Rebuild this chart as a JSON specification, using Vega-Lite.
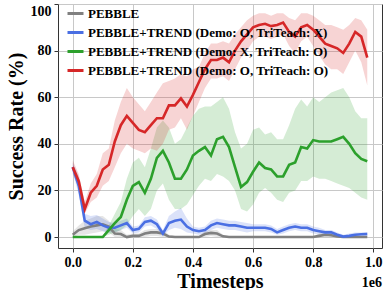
{
 "$schema": "https://vega.github.io/schema/vega-lite/v6.json",
 "width": 324,
 "height": 244,
 "autosize": "none",
 "padding": {"left": 58, "top": 4, "right": 2, "bottom": 42},
 "background": "white",
 "config": {
  "font": "Liberation Serif",
  "view": {"stroke": "#333333", "strokeWidth": 1},
  "axis": {"labelFont": "Liberation Serif", "labelFontWeight": "bold", "labelFontSize": 14, "labelColor": "black", "titleFont": "Liberation Serif", "titleFontWeight": "bold", "titleFontSize": 20, "titleColor": "black", "tickSize": 4, "tickColor": "#333333", "gridColor": "#c8c8c8", "gridWidth": 1, "domain": false}
 },
 "title": {"text": "1e6", "orient": "bottom", "anchor": "end", "frame": "group", "font": "Liberation Serif", "fontWeight": "bold", "fontSize": 14, "color": "black", "offset": -15},
 "data": {"values": [
  {"series":"PEBBLE","t":0,"mean":1,"lo":0,"hi":2.5},
  {"series":"PEBBLE","t":0.02,"mean":3,"lo":1,"hi":5},
  {"series":"PEBBLE","t":0.04,"mean":3.8,"lo":1,"hi":7},
  {"series":"PEBBLE","t":0.06,"mean":4.5,"lo":1.5,"hi":8},
  {"series":"PEBBLE","t":0.08,"mean":5,"lo":2,"hi":9},
  {"series":"PEBBLE","t":0.1,"mean":5.5,"lo":2.5,"hi":9},
  {"series":"PEBBLE","t":0.12,"mean":4.5,"lo":2,"hi":7},
  {"series":"PEBBLE","t":0.14,"mean":1.5,"lo":0,"hi":3.5},
  {"series":"PEBBLE","t":0.16,"mean":1.3,"lo":0,"hi":3},
  {"series":"PEBBLE","t":0.18,"mean":0,"lo":0,"hi":1},
  {"series":"PEBBLE","t":0.2,"mean":0.5,"lo":0,"hi":1.5},
  {"series":"PEBBLE","t":0.22,"mean":0.5,"lo":0,"hi":1.5},
  {"series":"PEBBLE","t":0.24,"mean":1.5,"lo":0,"hi":3},
  {"series":"PEBBLE","t":0.26,"mean":2,"lo":0.5,"hi":3.5},
  {"series":"PEBBLE","t":0.28,"mean":2,"lo":0.5,"hi":3.5},
  {"series":"PEBBLE","t":0.3,"mean":1.5,"lo":0,"hi":3},
  {"series":"PEBBLE","t":0.32,"mean":0.2,"lo":0,"hi":1},
  {"series":"PEBBLE","t":0.34,"mean":0,"lo":0,"hi":0.5},
  {"series":"PEBBLE","t":0.36,"mean":0,"lo":0,"hi":0.5},
  {"series":"PEBBLE","t":0.38,"mean":0,"lo":0,"hi":0.5},
  {"series":"PEBBLE","t":0.4,"mean":0,"lo":0,"hi":0.5},
  {"series":"PEBBLE","t":0.42,"mean":0,"lo":0,"hi":0.5},
  {"series":"PEBBLE","t":0.44,"mean":1.3,"lo":0,"hi":2.5},
  {"series":"PEBBLE","t":0.46,"mean":1.8,"lo":0.5,"hi":3},
  {"series":"PEBBLE","t":0.48,"mean":1.5,"lo":0,"hi":3},
  {"series":"PEBBLE","t":0.5,"mean":0.3,"lo":0,"hi":1},
  {"series":"PEBBLE","t":0.52,"mean":0,"lo":0,"hi":0.3},
  {"series":"PEBBLE","t":0.54,"mean":0,"lo":0,"hi":0.3},
  {"series":"PEBBLE","t":0.56,"mean":0,"lo":0,"hi":0.3},
  {"series":"PEBBLE","t":0.58,"mean":0,"lo":0,"hi":0.3},
  {"series":"PEBBLE","t":0.6,"mean":0,"lo":0,"hi":0.3},
  {"series":"PEBBLE","t":0.62,"mean":0,"lo":0,"hi":0.3},
  {"series":"PEBBLE","t":0.64,"mean":0,"lo":0,"hi":0.3},
  {"series":"PEBBLE","t":0.66,"mean":0,"lo":0,"hi":0.3},
  {"series":"PEBBLE","t":0.68,"mean":0,"lo":0,"hi":0.3},
  {"series":"PEBBLE","t":0.7,"mean":0,"lo":0,"hi":0.3},
  {"series":"PEBBLE","t":0.72,"mean":0,"lo":0,"hi":0.3},
  {"series":"PEBBLE","t":0.74,"mean":0,"lo":0,"hi":0.3},
  {"series":"PEBBLE","t":0.76,"mean":0,"lo":0,"hi":0.3},
  {"series":"PEBBLE","t":0.78,"mean":0,"lo":0,"hi":0.3},
  {"series":"PEBBLE","t":0.8,"mean":0,"lo":0,"hi":0.3},
  {"series":"PEBBLE","t":0.82,"mean":0.5,"lo":0,"hi":1.5},
  {"series":"PEBBLE","t":0.84,"mean":1,"lo":0,"hi":2},
  {"series":"PEBBLE","t":0.86,"mean":0.8,"lo":0,"hi":1.8},
  {"series":"PEBBLE","t":0.88,"mean":0.3,"lo":0,"hi":1},
  {"series":"PEBBLE","t":0.9,"mean":0,"lo":0,"hi":0.3},
  {"series":"PEBBLE","t":0.92,"mean":0,"lo":0,"hi":0.3},
  {"series":"PEBBLE","t":0.94,"mean":0,"lo":0,"hi":0.3},
  {"series":"PEBBLE","t":0.96,"mean":0,"lo":0,"hi":0.3},
  {"series":"PEBBLE","t":0.98,"mean":0,"lo":0,"hi":0.3},
  {"series":"PEBBLE+TREND (Demo: O, TriTeach: X)","t":0,"mean":30,"lo":28,"hi":32},
  {"series":"PEBBLE+TREND (Demo: O, TriTeach: X)","t":0.02,"mean":22,"lo":18,"hi":26},
  {"series":"PEBBLE+TREND (Demo: O, TriTeach: X)","t":0.04,"mean":7,"lo":4,"hi":10},
  {"series":"PEBBLE+TREND (Demo: O, TriTeach: X)","t":0.06,"mean":5.5,"lo":3,"hi":9},
  {"series":"PEBBLE+TREND (Demo: O, TriTeach: X)","t":0.08,"mean":6.5,"lo":3.5,"hi":9.5},
  {"series":"PEBBLE+TREND (Demo: O, TriTeach: X)","t":0.1,"mean":5,"lo":2.5,"hi":8},
  {"series":"PEBBLE+TREND (Demo: O, TriTeach: X)","t":0.12,"mean":4,"lo":2,"hi":6.5},
  {"series":"PEBBLE+TREND (Demo: O, TriTeach: X)","t":0.14,"mean":4,"lo":2,"hi":6},
  {"series":"PEBBLE+TREND (Demo: O, TriTeach: X)","t":0.16,"mean":5,"lo":3,"hi":7},
  {"series":"PEBBLE+TREND (Demo: O, TriTeach: X)","t":0.18,"mean":6,"lo":4,"hi":8},
  {"series":"PEBBLE+TREND (Demo: O, TriTeach: X)","t":0.2,"mean":3,"lo":1.5,"hi":4.5},
  {"series":"PEBBLE+TREND (Demo: O, TriTeach: X)","t":0.22,"mean":3.5,"lo":2,"hi":5},
  {"series":"PEBBLE+TREND (Demo: O, TriTeach: X)","t":0.24,"mean":6.5,"lo":4.5,"hi":8.5},
  {"series":"PEBBLE+TREND (Demo: O, TriTeach: X)","t":0.26,"mean":7,"lo":5,"hi":9},
  {"series":"PEBBLE+TREND (Demo: O, TriTeach: X)","t":0.28,"mean":5.5,"lo":3.5,"hi":7.5},
  {"series":"PEBBLE+TREND (Demo: O, TriTeach: X)","t":0.3,"mean":1.5,"lo":0.5,"hi":3},
  {"series":"PEBBLE+TREND (Demo: O, TriTeach: X)","t":0.32,"mean":6,"lo":3,"hi":9},
  {"series":"PEBBLE+TREND (Demo: O, TriTeach: X)","t":0.34,"mean":7,"lo":4,"hi":11},
  {"series":"PEBBLE+TREND (Demo: O, TriTeach: X)","t":0.36,"mean":7.5,"lo":3.5,"hi":12.5},
  {"series":"PEBBLE+TREND (Demo: O, TriTeach: X)","t":0.38,"mean":4.5,"lo":2,"hi":8},
  {"series":"PEBBLE+TREND (Demo: O, TriTeach: X)","t":0.4,"mean":3,"lo":1.5,"hi":4.5},
  {"series":"PEBBLE+TREND (Demo: O, TriTeach: X)","t":0.42,"mean":2.5,"lo":1,"hi":4},
  {"series":"PEBBLE+TREND (Demo: O, TriTeach: X)","t":0.44,"mean":3,"lo":1.5,"hi":4.5},
  {"series":"PEBBLE+TREND (Demo: O, TriTeach: X)","t":0.46,"mean":5,"lo":3,"hi":7},
  {"series":"PEBBLE+TREND (Demo: O, TriTeach: X)","t":0.48,"mean":6,"lo":4,"hi":8},
  {"series":"PEBBLE+TREND (Demo: O, TriTeach: X)","t":0.5,"mean":5.5,"lo":3.5,"hi":7.5},
  {"series":"PEBBLE+TREND (Demo: O, TriTeach: X)","t":0.52,"mean":5,"lo":3,"hi":7},
  {"series":"PEBBLE+TREND (Demo: O, TriTeach: X)","t":0.54,"mean":5,"lo":3,"hi":7},
  {"series":"PEBBLE+TREND (Demo: O, TriTeach: X)","t":0.56,"mean":4.5,"lo":2.5,"hi":6.5},
  {"series":"PEBBLE+TREND (Demo: O, TriTeach: X)","t":0.58,"mean":4,"lo":2,"hi":6},
  {"series":"PEBBLE+TREND (Demo: O, TriTeach: X)","t":0.6,"mean":4,"lo":2.5,"hi":5.5},
  {"series":"PEBBLE+TREND (Demo: O, TriTeach: X)","t":0.62,"mean":4,"lo":2.5,"hi":5.5},
  {"series":"PEBBLE+TREND (Demo: O, TriTeach: X)","t":0.64,"mean":4,"lo":2.5,"hi":5.5},
  {"series":"PEBBLE+TREND (Demo: O, TriTeach: X)","t":0.66,"mean":3.5,"lo":2,"hi":5},
  {"series":"PEBBLE+TREND (Demo: O, TriTeach: X)","t":0.68,"mean":2,"lo":1,"hi":3.5},
  {"series":"PEBBLE+TREND (Demo: O, TriTeach: X)","t":0.7,"mean":3,"lo":1.5,"hi":4.5},
  {"series":"PEBBLE+TREND (Demo: O, TriTeach: X)","t":0.72,"mean":4,"lo":2.5,"hi":5.5},
  {"series":"PEBBLE+TREND (Demo: O, TriTeach: X)","t":0.74,"mean":4.5,"lo":3,"hi":6},
  {"series":"PEBBLE+TREND (Demo: O, TriTeach: X)","t":0.76,"mean":4,"lo":2.5,"hi":5.5},
  {"series":"PEBBLE+TREND (Demo: O, TriTeach: X)","t":0.78,"mean":4,"lo":2.5,"hi":5.5},
  {"series":"PEBBLE+TREND (Demo: O, TriTeach: X)","t":0.8,"mean":3,"lo":1.5,"hi":4.5},
  {"series":"PEBBLE+TREND (Demo: O, TriTeach: X)","t":0.82,"mean":2.5,"lo":1,"hi":4},
  {"series":"PEBBLE+TREND (Demo: O, TriTeach: X)","t":0.84,"mean":2,"lo":1,"hi":3},
  {"series":"PEBBLE+TREND (Demo: O, TriTeach: X)","t":0.86,"mean":2,"lo":1,"hi":3},
  {"series":"PEBBLE+TREND (Demo: O, TriTeach: X)","t":0.88,"mean":1,"lo":0.3,"hi":2},
  {"series":"PEBBLE+TREND (Demo: O, TriTeach: X)","t":0.9,"mean":0.2,"lo":0,"hi":1},
  {"series":"PEBBLE+TREND (Demo: O, TriTeach: X)","t":0.92,"mean":0.5,"lo":0,"hi":1.5},
  {"series":"PEBBLE+TREND (Demo: O, TriTeach: X)","t":0.94,"mean":1,"lo":0.2,"hi":2},
  {"series":"PEBBLE+TREND (Demo: O, TriTeach: X)","t":0.96,"mean":1.2,"lo":0.3,"hi":2},
  {"series":"PEBBLE+TREND (Demo: O, TriTeach: X)","t":0.98,"mean":1.3,"lo":0.3,"hi":2.2},
  {"series":"PEBBLE+TREND (Demo: X, TriTeach: O)","t":0,"mean":0,"lo":0,"hi":0},
  {"series":"PEBBLE+TREND (Demo: X, TriTeach: O)","t":0.02,"mean":0,"lo":0,"hi":0},
  {"series":"PEBBLE+TREND (Demo: X, TriTeach: O)","t":0.04,"mean":0,"lo":0,"hi":0},
  {"series":"PEBBLE+TREND (Demo: X, TriTeach: O)","t":0.06,"mean":0,"lo":0,"hi":0},
  {"series":"PEBBLE+TREND (Demo: X, TriTeach: O)","t":0.08,"mean":0,"lo":0,"hi":0},
  {"series":"PEBBLE+TREND (Demo: X, TriTeach: O)","t":0.1,"mean":0,"lo":0,"hi":0.5},
  {"series":"PEBBLE+TREND (Demo: X, TriTeach: O)","t":0.12,"mean":3,"lo":1,"hi":5},
  {"series":"PEBBLE+TREND (Demo: X, TriTeach: O)","t":0.14,"mean":6,"lo":2,"hi":10},
  {"series":"PEBBLE+TREND (Demo: X, TriTeach: O)","t":0.16,"mean":8.6,"lo":3,"hi":15},
  {"series":"PEBBLE+TREND (Demo: X, TriTeach: O)","t":0.18,"mean":16,"lo":5,"hi":25},
  {"series":"PEBBLE+TREND (Demo: X, TriTeach: O)","t":0.2,"mean":22,"lo":9,"hi":32},
  {"series":"PEBBLE+TREND (Demo: X, TriTeach: O)","t":0.22,"mean":23.6,"lo":12,"hi":34},
  {"series":"PEBBLE+TREND (Demo: X, TriTeach: O)","t":0.24,"mean":19,"lo":9,"hi":30},
  {"series":"PEBBLE+TREND (Demo: X, TriTeach: O)","t":0.26,"mean":25,"lo":12,"hi":38},
  {"series":"PEBBLE+TREND (Demo: X, TriTeach: O)","t":0.28,"mean":34,"lo":20,"hi":47},
  {"series":"PEBBLE+TREND (Demo: X, TriTeach: O)","t":0.3,"mean":37,"lo":23,"hi":50},
  {"series":"PEBBLE+TREND (Demo: X, TriTeach: O)","t":0.32,"mean":32,"lo":16,"hi":47},
  {"series":"PEBBLE+TREND (Demo: X, TriTeach: O)","t":0.34,"mean":25,"lo":12,"hi":40},
  {"series":"PEBBLE+TREND (Demo: X, TriTeach: O)","t":0.36,"mean":25,"lo":12,"hi":42},
  {"series":"PEBBLE+TREND (Demo: X, TriTeach: O)","t":0.38,"mean":29,"lo":14,"hi":47},
  {"series":"PEBBLE+TREND (Demo: X, TriTeach: O)","t":0.4,"mean":35,"lo":18,"hi":52},
  {"series":"PEBBLE+TREND (Demo: X, TriTeach: O)","t":0.42,"mean":37,"lo":22,"hi":55},
  {"series":"PEBBLE+TREND (Demo: X, TriTeach: O)","t":0.44,"mean":38.6,"lo":25,"hi":56},
  {"series":"PEBBLE+TREND (Demo: X, TriTeach: O)","t":0.46,"mean":35,"lo":24,"hi":56},
  {"series":"PEBBLE+TREND (Demo: X, TriTeach: O)","t":0.48,"mean":42,"lo":27,"hi":58},
  {"series":"PEBBLE+TREND (Demo: X, TriTeach: O)","t":0.5,"mean":43,"lo":26,"hi":60},
  {"series":"PEBBLE+TREND (Demo: X, TriTeach: O)","t":0.52,"mean":38.6,"lo":24,"hi":55},
  {"series":"PEBBLE+TREND (Demo: X, TriTeach: O)","t":0.54,"mean":30,"lo":20,"hi":45},
  {"series":"PEBBLE+TREND (Demo: X, TriTeach: O)","t":0.56,"mean":21.5,"lo":12,"hi":38},
  {"series":"PEBBLE+TREND (Demo: X, TriTeach: O)","t":0.58,"mean":23.6,"lo":11,"hi":40},
  {"series":"PEBBLE+TREND (Demo: X, TriTeach: O)","t":0.6,"mean":28,"lo":14,"hi":46},
  {"series":"PEBBLE+TREND (Demo: X, TriTeach: O)","t":0.62,"mean":32,"lo":19,"hi":47},
  {"series":"PEBBLE+TREND (Demo: X, TriTeach: O)","t":0.64,"mean":29.6,"lo":21,"hi":44},
  {"series":"PEBBLE+TREND (Demo: X, TriTeach: O)","t":0.66,"mean":29,"lo":19,"hi":45},
  {"series":"PEBBLE+TREND (Demo: X, TriTeach: O)","t":0.68,"mean":26,"lo":16,"hi":42},
  {"series":"PEBBLE+TREND (Demo: X, TriTeach: O)","t":0.7,"mean":26,"lo":15,"hi":42},
  {"series":"PEBBLE+TREND (Demo: X, TriTeach: O)","t":0.72,"mean":31,"lo":19,"hi":48},
  {"series":"PEBBLE+TREND (Demo: X, TriTeach: O)","t":0.74,"mean":32,"lo":20,"hi":55},
  {"series":"PEBBLE+TREND (Demo: X, TriTeach: O)","t":0.76,"mean":38.6,"lo":24,"hi":59},
  {"series":"PEBBLE+TREND (Demo: X, TriTeach: O)","t":0.78,"mean":38,"lo":24,"hi":56},
  {"series":"PEBBLE+TREND (Demo: X, TriTeach: O)","t":0.8,"mean":41.6,"lo":26,"hi":60},
  {"series":"PEBBLE+TREND (Demo: X, TriTeach: O)","t":0.82,"mean":41,"lo":25,"hi":58},
  {"series":"PEBBLE+TREND (Demo: X, TriTeach: O)","t":0.84,"mean":41,"lo":25,"hi":60},
  {"series":"PEBBLE+TREND (Demo: X, TriTeach: O)","t":0.86,"mean":41,"lo":24,"hi":62},
  {"series":"PEBBLE+TREND (Demo: X, TriTeach: O)","t":0.88,"mean":42,"lo":23,"hi":63},
  {"series":"PEBBLE+TREND (Demo: X, TriTeach: O)","t":0.9,"mean":43,"lo":22,"hi":64},
  {"series":"PEBBLE+TREND (Demo: X, TriTeach: O)","t":0.92,"mean":40,"lo":21,"hi":60},
  {"series":"PEBBLE+TREND (Demo: X, TriTeach: O)","t":0.94,"mean":36,"lo":19,"hi":54},
  {"series":"PEBBLE+TREND (Demo: X, TriTeach: O)","t":0.96,"mean":33.5,"lo":17,"hi":51},
  {"series":"PEBBLE+TREND (Demo: X, TriTeach: O)","t":0.98,"mean":32.5,"lo":16,"hi":51},
  {"series":"PEBBLE+TREND (Demo: O, TriTeach: O)","t":0,"mean":30,"lo":27,"hi":33},
  {"series":"PEBBLE+TREND (Demo: O, TriTeach: O)","t":0.02,"mean":24,"lo":21,"hi":27},
  {"series":"PEBBLE+TREND (Demo: O, TriTeach: O)","t":0.04,"mean":12,"lo":10,"hi":15},
  {"series":"PEBBLE+TREND (Demo: O, TriTeach: O)","t":0.06,"mean":19,"lo":15,"hi":23},
  {"series":"PEBBLE+TREND (Demo: O, TriTeach: O)","t":0.08,"mean":22,"lo":17,"hi":27},
  {"series":"PEBBLE+TREND (Demo: O, TriTeach: O)","t":0.1,"mean":29,"lo":22,"hi":36},
  {"series":"PEBBLE+TREND (Demo: O, TriTeach: O)","t":0.12,"mean":31,"lo":24,"hi":38},
  {"series":"PEBBLE+TREND (Demo: O, TriTeach: O)","t":0.14,"mean":41,"lo":30,"hi":50},
  {"series":"PEBBLE+TREND (Demo: O, TriTeach: O)","t":0.16,"mean":48,"lo":36,"hi":58},
  {"series":"PEBBLE+TREND (Demo: O, TriTeach: O)","t":0.18,"mean":52,"lo":40,"hi":64},
  {"series":"PEBBLE+TREND (Demo: O, TriTeach: O)","t":0.2,"mean":49,"lo":38,"hi":60},
  {"series":"PEBBLE+TREND (Demo: O, TriTeach: O)","t":0.22,"mean":46,"lo":37,"hi":57},
  {"series":"PEBBLE+TREND (Demo: O, TriTeach: O)","t":0.24,"mean":45,"lo":36,"hi":54},
  {"series":"PEBBLE+TREND (Demo: O, TriTeach: O)","t":0.26,"mean":48,"lo":38,"hi":58},
  {"series":"PEBBLE+TREND (Demo: O, TriTeach: O)","t":0.28,"mean":51,"lo":37,"hi":62},
  {"series":"PEBBLE+TREND (Demo: O, TriTeach: O)","t":0.3,"mean":51,"lo":40,"hi":66},
  {"series":"PEBBLE+TREND (Demo: O, TriTeach: O)","t":0.32,"mean":56.5,"lo":46,"hi":67},
  {"series":"PEBBLE+TREND (Demo: O, TriTeach: O)","t":0.34,"mean":56.5,"lo":47,"hi":68},
  {"series":"PEBBLE+TREND (Demo: O, TriTeach: O)","t":0.36,"mean":59.5,"lo":51,"hi":70},
  {"series":"PEBBLE+TREND (Demo: O, TriTeach: O)","t":0.38,"mean":56,"lo":46,"hi":69},
  {"series":"PEBBLE+TREND (Demo: O, TriTeach: O)","t":0.4,"mean":61,"lo":52,"hi":72},
  {"series":"PEBBLE+TREND (Demo: O, TriTeach: O)","t":0.42,"mean":66.5,"lo":58,"hi":73},
  {"series":"PEBBLE+TREND (Demo: O, TriTeach: O)","t":0.44,"mean":72,"lo":64,"hi":79},
  {"series":"PEBBLE+TREND (Demo: O, TriTeach: O)","t":0.46,"mean":76,"lo":68,"hi":83},
  {"series":"PEBBLE+TREND (Demo: O, TriTeach: O)","t":0.48,"mean":76,"lo":68,"hi":83},
  {"series":"PEBBLE+TREND (Demo: O, TriTeach: O)","t":0.5,"mean":77,"lo":69,"hi":84},
  {"series":"PEBBLE+TREND (Demo: O, TriTeach: O)","t":0.52,"mean":75,"lo":67,"hi":83},
  {"series":"PEBBLE+TREND (Demo: O, TriTeach: O)","t":0.54,"mean":80,"lo":72,"hi":87},
  {"series":"PEBBLE+TREND (Demo: O, TriTeach: O)","t":0.56,"mean":84,"lo":77,"hi":90},
  {"series":"PEBBLE+TREND (Demo: O, TriTeach: O)","t":0.58,"mean":87,"lo":80,"hi":93},
  {"series":"PEBBLE+TREND (Demo: O, TriTeach: O)","t":0.6,"mean":90,"lo":84,"hi":95},
  {"series":"PEBBLE+TREND (Demo: O, TriTeach: O)","t":0.62,"mean":91,"lo":86,"hi":96},
  {"series":"PEBBLE+TREND (Demo: O, TriTeach: O)","t":0.64,"mean":91.5,"lo":86,"hi":96},
  {"series":"PEBBLE+TREND (Demo: O, TriTeach: O)","t":0.66,"mean":90.5,"lo":85,"hi":95},
  {"series":"PEBBLE+TREND (Demo: O, TriTeach: O)","t":0.68,"mean":91,"lo":86,"hi":96},
  {"series":"PEBBLE+TREND (Demo: O, TriTeach: O)","t":0.7,"mean":92,"lo":87,"hi":96},
  {"series":"PEBBLE+TREND (Demo: O, TriTeach: O)","t":0.72,"mean":88,"lo":82,"hi":94},
  {"series":"PEBBLE+TREND (Demo: O, TriTeach: O)","t":0.74,"mean":86,"lo":79,"hi":93},
  {"series":"PEBBLE+TREND (Demo: O, TriTeach: O)","t":0.76,"mean":90,"lo":84,"hi":96},
  {"series":"PEBBLE+TREND (Demo: O, TriTeach: O)","t":0.78,"mean":91,"lo":86,"hi":96},
  {"series":"PEBBLE+TREND (Demo: O, TriTeach: O)","t":0.8,"mean":89,"lo":82,"hi":95},
  {"series":"PEBBLE+TREND (Demo: O, TriTeach: O)","t":0.82,"mean":86,"lo":78,"hi":93},
  {"series":"PEBBLE+TREND (Demo: O, TriTeach: O)","t":0.84,"mean":83,"lo":74,"hi":91},
  {"series":"PEBBLE+TREND (Demo: O, TriTeach: O)","t":0.86,"mean":82,"lo":72,"hi":91},
  {"series":"PEBBLE+TREND (Demo: O, TriTeach: O)","t":0.88,"mean":81,"lo":72,"hi":90},
  {"series":"PEBBLE+TREND (Demo: O, TriTeach: O)","t":0.9,"mean":79,"lo":70,"hi":89},
  {"series":"PEBBLE+TREND (Demo: O, TriTeach: O)","t":0.92,"mean":83,"lo":75,"hi":91},
  {"series":"PEBBLE+TREND (Demo: O, TriTeach: O)","t":0.94,"mean":88,"lo":80,"hi":94},
  {"series":"PEBBLE+TREND (Demo: O, TriTeach: O)","t":0.96,"mean":86,"lo":75,"hi":93},
  {"series":"PEBBLE+TREND (Demo: O, TriTeach: O)","t":0.98,"mean":77,"lo":65,"hi":89}
 ]},
 "encoding": {
  "x": {"field": "t", "type": "quantitative", "scale": {"domain": [-0.049, 1.029], "nice": false, "zero": false},
        "axis": {"values": [0, 0.2, 0.4, 0.6, 0.8, 1.0], "format": ".1f", "title": "Timesteps", "labelPadding": 3, "titlePadding": 2}},
  "color": {"field": "series", "type": "nominal",
            "scale": {"domain": ["PEBBLE", "PEBBLE+TREND (Demo: O, TriTeach: X)", "PEBBLE+TREND (Demo: X, TriTeach: O)", "PEBBLE+TREND (Demo: O, TriTeach: O)"],
                      "range": ["#808080", "#4a6fe3", "#2ca02c", "#d62728"]},
            "legend": {"title": null, "orient": "none", "legendX": 8, "legendY": 0, "symbolType": "stroke", "symbolSize": 256, "symbolStrokeWidth": 3, "symbolOpacity": 1, "labelFont": "Liberation Serif", "labelFontWeight": "bold", "labelFontSize": 13, "labelColor": "black", "labelOffset": 3, "rowPadding": 2, "padding": 0, "labelLimit": 400}}
 },
 "layer": [
  {"mark": {"type": "area", "opacity": 0.2},
   "encoding": {
    "y": {"field": "lo", "type": "quantitative", "scale": {"domain": [-4.7, 100], "nice": false, "zero": false},
          "axis": {"values": [0, 20, 40, 60, 80, 100], "title": "Success Rate (%)", "labelFlush": true, "labelPadding": 3, "titleX": -42, "titleBaseline": "middle"}},
    "y2": {"field": "hi"}
   }},
  {"mark": {"type": "line", "strokeWidth": 2.6},
   "encoding": {
    "y": {"field": "mean", "type": "quantitative"}
   }}
 ]
}
